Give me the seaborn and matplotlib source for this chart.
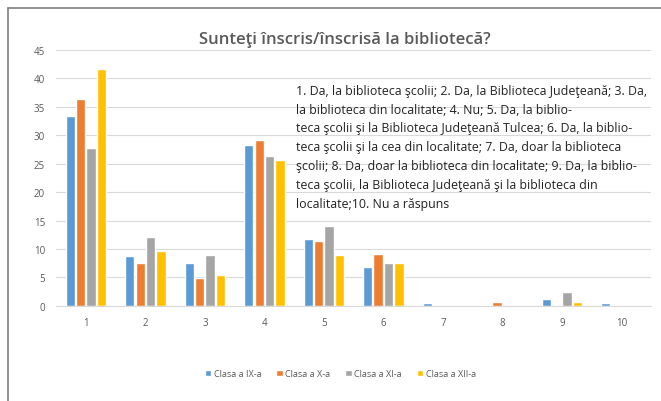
import numpy as np
import pandas as pd
import matplotlib.pyplot as plt
import seaborn as sns
from matplotlib.lines import Line2D
from matplotlib.patches import Patch

# data
categories = ["1", "2", "3", "4", "5", "6", "7", "8", "9", "10"]
clasa_ix = [33.4, 8.8, 7.5, 28.3, 11.8, 6.9, 0.5, 0.0, 1.2, 0.5]
clasa_x = [36.3, 7.6, 4.8, 29.1, 11.4, 9.1, 0.0, 0.6, 0.0, 0.0]
clasa_xi = [27.7, 12.1, 8.9, 26.4, 14.1, 7.6, 0.0, 0.0, 2.4, 0.0]
clasa_xii = [41.6, 9.6, 5.4, 25.6, 9.0, 7.5, 0.0, 0.0, 0.7, 0.0]
series_names = ["Clasa a IX-a", "Clasa a X-a", "Clasa a XI-a", "Clasa a XII-a"]

note_lines = [
    "1. Da, la biblioteca şcolii; 2. Da, la Biblioteca Judeţeană; 3. Da,",
    "la biblioteca din localitate; 4. Nu; 5. Da, la biblio-",
    "teca şcolii şi la Biblioteca Judeţeană Tulcea; 6. Da, la biblio-",
    "teca şcolii şi la cea din localitate; 7. Da, doar la biblioteca",
    "şcolii; 8. Da, doar la biblioteca din localitate; 9. Da, la biblio-",
    "teca şcolii, la Biblioteca Judeţeană şi la biblioteca din",
    "localitate;10. Nu a răspuns",
]

df = pd.DataFrame({
    "cat": categories * 4,
    "val": clasa_ix + clasa_x + clasa_xi + clasa_xii,
    "clasa": np.repeat(series_names, len(categories)),
})

colors = ["#5B9BD5", "#ED7D31", "#A5A5A5", "#FFC000"]
txt = "#595959"

sns.set_style("white")
plt.rcParams["font.family"] = ["Open Sans", "DejaVu Sans"]

fig = plt.figure(figsize=(6.61, 4.02), dpi=100)
ax = fig.add_axes([0.085, 0.237, 0.9, 0.636])

sns.barplot(data=df, x="cat", y="val", hue="clasa", palette=colors,
            width=0.7, gap=0.1, ax=ax, legend=False, saturation=1)

ax.set_ylim(0, 45)
ax.set_yticks(range(0, 46, 5))
ax.set_xlim(-0.5, 9.5)
ax.grid(axis="y", color="#D9D9D9", lw=0.8)
ax.set_axisbelow(True)
for s in ["top", "right", "left"]:
    ax.spines[s].set_visible(False)
ax.spines["bottom"].set_color("#D9D9D9")
ax.tick_params(colors=txt, labelsize=7, length=0, pad=8)
ax.set_xlabel("")
ax.set_ylabel("")

fig.text(0.522, 0.9, "Sunteţi înscris/înscrisă la bibliotecă?", ha="center",
         va="center", fontsize=12, color=txt, fontweight="semibold")

ax.text(0.403, 0.868, "\n".join(note_lines), transform=ax.transAxes,
        ha="left", va="top", fontsize=8.9, color="#222222", linespacing=1.58)

handles = [Patch(facecolor=c, label=n) for c, n in zip(colors, series_names)]
fig.legend(handles=handles, loc="center", bbox_to_anchor=(0.515, 0.068), ncol=4,
           frameon=False, fontsize=6.6, labelcolor=txt, handlelength=0.7,
           handleheight=0.7, handletextpad=0.3, columnspacing=1.6)

# frame lines on left and top
fig.add_artist(Line2D([0.012, 0.012], [0, 0.978], color="#7F7F7F", lw=1.2))
fig.add_artist(Line2D([0.012, 1], [0.978, 0.978], color="#7F7F7F", lw=1.2))

fig.savefig("out.png", dpi=100)
